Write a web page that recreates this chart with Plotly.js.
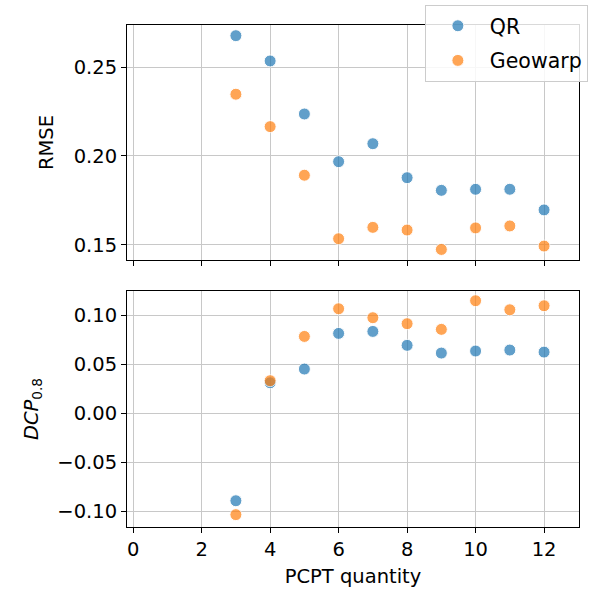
<!DOCTYPE html>
<html>
<head>
<meta charset="utf-8">
<script src="https://cdn.plot.ly/plotly-3.0.1.min.js"></script>
<style>html,body{margin:0;padding:0;background:#fff;}#chart{width:600px;height:593px;}</style>
</head>
<body>
<div id="chart"></div>
<script>
const pcptQuantity = [3, 4, 5, 6, 7, 8, 9, 10, 11, 12];
const rmseQR = [0.2676, 0.2534, 0.2236, 0.1968, 0.2069, 0.1878, 0.1807, 0.1813, 0.1813, 0.1697];
const rmseGeowarp = [0.2347, 0.2165, 0.1892, 0.1535, 0.1599, 0.1584, 0.1475, 0.1596, 0.1607, 0.1494];
const dcpQR = [-0.0895, 0.0309, 0.0449, 0.0813, 0.0833, 0.0691, 0.0612, 0.0633, 0.0643, 0.0622];
const dcpGeowarp = [-0.1037, 0.0330, 0.0782, 0.1064, 0.0973, 0.0912, 0.0854, 0.1146, 0.1054, 0.1095];
const xTicks = [0, 2, 4, 6, 8, 10, 12];
const rmseTicks = [0.15, 0.20, 0.25];
const dcpTicks = [-0.10, -0.05, 0.00, 0.05, 0.10];

const blue = '#1f77b4', orange = '#ff7f0e';
const FS = 19.5;
function mk(color) {
  return {color: color, size: 12, opacity: 0.7, line: {color: '#ffffff', width: 1}};
}
const traces = [
  {x: pcptQuantity, y: rmseQR, mode: 'markers', type: 'scatter', name: 'QR', marker: mk(blue), xaxis: 'x', yaxis: 'y', legendgroup: 'a'},
  {x: pcptQuantity, y: rmseGeowarp, mode: 'markers', type: 'scatter', name: 'Geowarp', marker: mk(orange), xaxis: 'x', yaxis: 'y', legendgroup: 'b'},
  {x: pcptQuantity, y: dcpQR, mode: 'markers', type: 'scatter', name: 'QR', marker: mk(blue), xaxis: 'x2', yaxis: 'y2', showlegend: false},
  {x: pcptQuantity, y: dcpGeowarp, mode: 'markers', type: 'scatter', name: 'Geowarp', marker: mk(orange), xaxis: 'x2', yaxis: 'y2', showlegend: false}
];
const axCommon = {
  showline: true, mirror: true, linecolor: '#000', linewidth: 1,
  ticks: 'outside', ticklen: 5, tickwidth: 1, tickcolor: '#000',
  showgrid: true, gridcolor: '#c8c8c8', gridwidth: 1, zeroline: false,
  tickfont: {family: 'DejaVu Sans', size: FS, color: '#000'}
};
const layout = {
  width: 600, height: 593,
  margin: {l: 127, r: 21, t: 25, b: 66, autoexpand: false},
  paper_bgcolor: '#fff', plot_bgcolor: '#fff',
  font: {family: 'DejaVu Sans', size: FS, color: '#000'},
  xaxis: Object.assign({}, axCommon, {range: [-0.18, 13.02], tickvals: xTicks, showticklabels: false, anchor: 'y', domain: [0, 1]}),
  yaxis: Object.assign({}, axCommon, {range: [0.1416, 0.2736], tickvals: rmseTicks, ticktext: rmseTicks.map(v => v.toFixed(2)), domain: [0.532, 1],
    title: {text: 'RMSE', font: {size: FS}, standoff: 14}}),
  xaxis2: Object.assign({}, axCommon, {range: [-0.18, 13.02], tickvals: xTicks, anchor: 'y2', domain: [0, 1],
    title: {text: 'PCPT quantity', font: {size: FS}, standoff: 8}}),
  yaxis2: Object.assign({}, axCommon, {range: [-0.1163, 0.1245], tickvals: dcpTicks, ticktext: dcpTicks.map(v => (v < 0 ? '\u2212' : '') + Math.abs(v).toFixed(2)), domain: [0, 0.470], anchor: 'x2',
    title: {text: '<i>DCP</i><sub>0.8</sub>', font: {size: FS}, standoff: 13}}),
  showlegend: true,
  legend: {x: 0.659, y: 1.04, xanchor: 'left', yanchor: 'top', bgcolor: 'rgba(255,255,255,0.85)', bordercolor: '#cccccc', borderwidth: 1,
    font: {family: 'DejaVu Sans', size: 20.5, color: '#000'}, traceorder: 'grouped', tracegroupgap: 5, itemwidth: 54}
};
Plotly.newPlot('chart', traces, layout, {displayModeBar: false, staticPlot: true});
</script>
</body>
</html>
